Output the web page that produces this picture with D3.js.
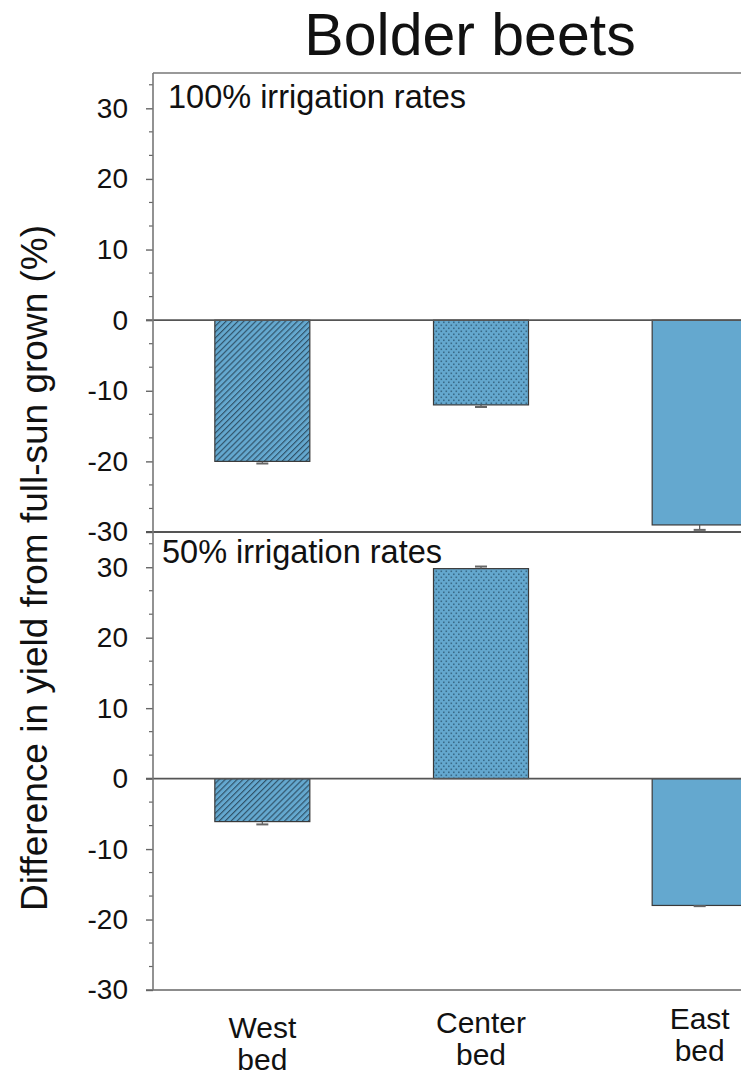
<!DOCTYPE html>
<html>
<head>
<meta charset="utf-8">
<script src="https://cdn.jsdelivr.net/npm/d3@7"></script>
<style>
  body { margin: 0; background: #fff; }
  svg { display: block; }
  text { font-family: "Liberation Sans", Arial, sans-serif; fill: #111; }
</style>
</head>
<body>
<svg id="chart" width="741" height="1075"></svg>
<script>
// Yield difference of shaded beds relative to full-sun plots (%)
const beds = ["West", "Center", "East"];
const bedFills = ["url(#hatch)", "url(#dots)", "#64a8cf"];
const full = [-20, -12, -29];          // 100% irrigation
const fullErr = [0.3, 0.3, 0.7];
const half = [-6.1, 29.8, -18];        // 50% irrigation
const halfErr = [0.4, 0.3, 0.1];
const panelNames = ["100% irrigation rates", "50% irrigation rates"];
const yTicks = [-30, -20, -10, 0, 10, 20, 30];
const yDomain = [-30, 35];

const svg = d3.select("#chart");
const W = 741;
const axisX = 153;

// patterns
const defs = svg.append("defs");
const hatch = defs.append("pattern")
  .attr("id", "hatch").attr("patternUnits", "userSpaceOnUse")
  .attr("width", 4.2).attr("height", 10)
  .attr("patternTransform", "rotate(45)");
hatch.append("rect").attr("width", 4.2).attr("height", 10).attr("fill", "#64a8cf");
hatch.append("line").attr("x1", 0.6).attr("x2", 0.6).attr("y1", 0).attr("y2", 10)
  .attr("stroke", "#2c4d63").attr("stroke-width", 1.1);

const dots = defs.append("pattern")
  .attr("id", "dots").attr("patternUnits", "userSpaceOnUse")
  .attr("width", 5).attr("height", 6);
dots.append("rect").attr("width", 5).attr("height", 6).attr("fill", "#64a8cf");
dots.append("rect").attr("x", 0.5).attr("y", 0.5).attr("width", 1.6).attr("height", 1.6).attr("fill", "#3a6a88");
dots.append("rect").attr("x", 3).attr("y", 3.5).attr("width", 1.6).attr("height", 1.6).attr("fill", "#3a6a88");

const x = d3.scalePoint().domain(beds).range([axisX, 809]).padding(0.5);
const barW = 95;

const panels = [
  { name: panelNames[0], vals: full, errs: fullErr, range: [532, 73], label: [168, 108], size: 32.5 },
  { name: panelNames[1], vals: half, errs: halfErr, range: [990, 532], label: [162, 563], size: 32.5 }
];

panels.forEach(p => {
  const y = d3.scaleLinear().domain(yDomain).range(p.range);
  const g = svg.append("g");

  // bars
  g.selectAll("rect.bar").data(p.vals).join("rect")
    .attr("class", "bar")
    .attr("x", (d, i) => x(beds[i]) - barW / 2)
    .attr("width", barW)
    .attr("y", d => y(Math.max(0, d)))
    .attr("height", d => Math.abs(y(d) - y(0)))
    .attr("fill", (d, i) => bedFills[i])
    .attr("stroke", "#3a3a3a").attr("stroke-width", 1.2);

  // error bars
  p.vals.forEach((d, i) => {
    const cx = x(beds[i]);
    const end = d + Math.sign(d) * p.errs[i];
    g.append("line").attr("x1", cx).attr("x2", cx).attr("y1", y(d)).attr("y2", y(end))
      .attr("stroke", "#555").attr("stroke-width", 1.2);
    g.append("line").attr("x1", cx - 6).attr("x2", cx + 6).attr("y1", y(end)).attr("y2", y(end))
      .attr("stroke", "#666").attr("stroke-width", 2);
  });

  // zero line
  g.append("line").attr("x1", axisX - 7).attr("x2", W).attr("y1", y(0)).attr("y2", y(0))
    .attr("stroke", "#555").attr("stroke-width", 1.6);

  // minor ticks
  const minor = d3.range(-90, 105, 10).map(v => v / 3).filter(v => Math.abs(v % 10) > 0.01);
  g.selectAll("line.minor").data(minor).join("line")
    .attr("class", "minor")
    .attr("x1", axisX - 4).attr("x2", axisX)
    .attr("y1", d => y(d)).attr("y2", d => y(d))
    .attr("stroke", "#666").attr("stroke-width", 1.2);

  // major ticks and labels
  const ax = g.append("g").attr("transform", `translate(${axisX},0)`)
    .call(d3.axisLeft(y).tickValues(yTicks).tickFormat(d => String(d))
      .tickSize(7).tickSizeOuter(0).tickPadding(18));
  ax.select(".domain").remove();
  ax.selectAll(".tick line").attr("stroke", "#666").attr("stroke-width", 1.4);
  ax.selectAll(".tick text").attr("font-size", 28).attr("fill", "#111")
    .style("font-family", '"Liberation Sans", Arial, sans-serif');

  // panel label
  svg.append("text").attr("x", p.label[0]).attr("y", p.label[1])
    .attr("font-size", p.size).text(p.name);
});

// frame lines
svg.append("line").attr("x1", axisX).attr("x2", W).attr("y1", 73).attr("y2", 73)
  .attr("stroke", "#777").attr("stroke-width", 1.6);
svg.append("line").attr("x1", axisX - 7).attr("x2", W).attr("y1", 532).attr("y2", 532)
  .attr("stroke", "#555").attr("stroke-width", 2);
svg.append("line").attr("x1", axisX - 7).attr("x2", W).attr("y1", 990).attr("y2", 990)
  .attr("stroke", "#666").attr("stroke-width", 1.6);
svg.append("line").attr("x1", axisX).attr("x2", axisX).attr("y1", 73).attr("y2", 990)
  .attr("stroke", "#777").attr("stroke-width", 1.6);

// category labels (two lines each)
const catBase = [1038, 1033, 1029];
beds.forEach((b, i) => {
  const t = svg.append("text").attr("text-anchor", "middle").attr("font-size", 30);
  t.append("tspan").attr("x", x(b)).attr("y", catBase[i]).text(b);
  t.append("tspan").attr("x", x(b)).attr("y", catBase[i] + 32).text("bed");
});

// title
svg.append("text").attr("x", 470).attr("y", 55).attr("text-anchor", "middle")
  .attr("font-size", 59).text("Bolder beets");

// y-axis title
svg.append("text")
  .attr("transform", "translate(47,568) rotate(-90)")
  .attr("text-anchor", "middle").attr("font-size", 37)
  .text("Difference in yield from full-sun grown (%)");
</script>
</body>
</html>
